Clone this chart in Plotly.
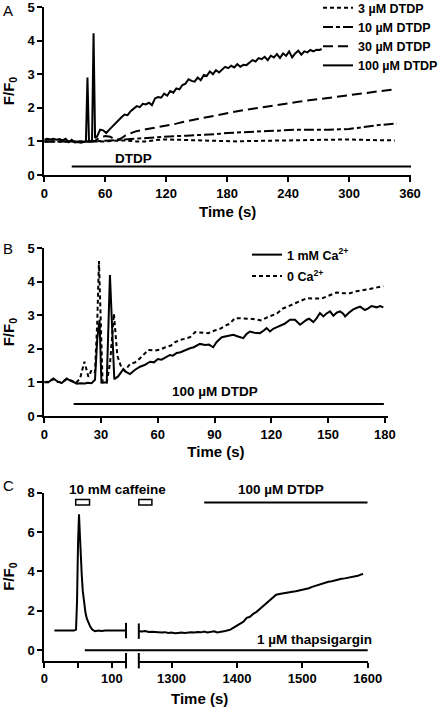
import plotly.graph_objects as go

FONT = "Liberation Sans, Arial, sans-serif"

# ---------------- Panel A ----------------
a_t100 = [0, 3, 6, 9, 12, 15, 18, 21, 24, 27, 30, 33, 36, 39, 41, 42.5, 44, 45.5, 47, 48.5, 50, 52,
          55, 58, 61, 64, 67, 70, 73, 76, 79, 82, 85, 88, 91, 94, 97, 100, 103, 106, 109, 112, 115,
          118, 121, 124, 127, 130, 133, 136, 139, 142, 145, 148, 151, 154, 157, 160, 163, 166, 169,
          172, 175, 178, 181, 184, 187, 190, 193, 196, 199, 202, 205, 208, 211, 214, 217, 220, 223,
          226, 229, 232, 235, 238, 241, 244, 247, 250, 253, 256, 259, 262, 265, 268, 271, 273]
a_y100 = [1.05, 1.08, 1.06, 1.08, 1.05, 1.07, 1.03, 1.08, 0.98, 1.05, 0.97, 0.98, 0.96, 0.98, 1.0,
          2.9, 1.0, 1.0, 1.0, 4.22, 1.1, 1.15,
          1.35, 1.33, 1.25, 1.35, 1.45, 1.55, 1.65, 1.72, 1.8, 1.78, 1.9, 1.97, 2.05, 2.02, 2.12,
          2.1, 2.15, 2.08, 2.28, 2.32, 2.3, 2.42, 2.36, 2.5, 2.45, 2.58, 2.55, 2.68, 2.72, 2.85,
          2.8, 2.78, 2.9, 2.82, 2.98, 2.95, 3.08, 3.0, 3.12, 3.05, 3.15, 3.22, 3.18, 3.25, 3.2,
          3.3, 3.22, 3.28, 3.27, 3.35, 3.42, 3.38, 3.48, 3.45, 3.52, 3.42, 3.55, 3.5, 3.6, 3.48,
          3.62, 3.55, 3.68, 3.5, 3.62, 3.7, 3.58, 3.68, 3.65, 3.72, 3.68, 3.73, 3.72, 3.75]

a_t30 = [0, 10, 20, 30, 40, 50, 55, 60, 65, 70, 75, 80, 90, 100, 110, 120, 130, 140, 150, 160, 170,
         180, 190, 200, 210, 220, 230, 240, 250, 260, 270, 280, 290, 300, 310, 320, 330, 342]
a_y30 = [1.0, 1.0, 1.0, 0.98, 0.99, 1.02, 1.12, 1.16, 1.14, 1.04, 1.08, 1.18, 1.3, 1.36, 1.41, 1.47,
         1.53, 1.6, 1.66, 1.73, 1.8, 1.86, 1.9, 1.95, 1.99, 2.04, 2.08, 2.13, 2.18, 2.22, 2.26,
         2.29, 2.33, 2.37, 2.41, 2.45, 2.49, 2.54]

a_t10 = [0, 10, 20, 30, 40, 50, 60, 70, 80, 90, 100, 110, 120, 130, 140, 150, 160, 170, 180, 190,
         200, 210, 220, 230, 240, 250, 260, 270, 280, 290, 300, 310, 320, 330, 347]
a_y10 = [1.0, 1.0, 1.0, 0.98, 0.98, 1.0, 1.02, 1.04, 1.07, 1.1, 1.12, 1.14, 1.15, 1.16, 1.17, 1.18,
         1.2, 1.22, 1.25, 1.27, 1.29, 1.3, 1.31, 1.32, 1.34, 1.35, 1.35, 1.34, 1.35, 1.36, 1.37,
         1.41, 1.46, 1.49, 1.53]

a_t3 = [0, 10, 20, 30, 40, 50, 60, 70, 80, 90, 100, 110, 120, 130, 140, 150, 160, 170, 180, 190,
        200, 220, 240, 260, 280, 300, 320, 345]
a_y3 = [1.0, 1.0, 0.99, 0.98, 0.98, 1.0, 1.0, 1.02, 1.03, 1.0, 1.0, 1.04, 1.06, 1.05, 1.04, 1.02,
        1.01, 1.0, 1.0, 1.0, 1.01, 1.02, 1.02, 1.03, 1.04, 1.06, 1.04, 1.03]

a_names = ["3 µM DTDP", "10 µM DTDP", "30 µM DTDP", "100 µM DTDP"]
a_bar = [27, 361]          # DTDP application (s)
a_bar_level = 0.25
a_xticks = [0, 60, 120, 180, 240, 300, 360]

# ---------------- Panel B ----------------
b_t1 = [0, 2, 4.8, 7, 9.2, 11.8, 13, 14.5, 16, 17.1, 19, 21.5, 23, 25, 26.8, 28, 29.2, 30.2, 31.5,
        33, 34.7, 37, 39, 41.8, 43, 45.3, 48, 50.6, 53, 55.9, 58, 60, 62, 64, 66.4, 68, 70, 72, 74,
        77, 79, 82.3, 85, 87, 89.3, 91, 93.8, 96, 99.9, 102, 105.2, 107, 108.7, 111, 114, 116,
        117.5, 119.3, 121, 123, 125, 127, 129.9, 132.5, 135.2, 137, 138.7, 140, 142.2, 144, 145.7,
        147.5, 149, 151, 152.8, 154.5, 156.3, 158, 159, 161, 163.3, 165, 166.9, 169.5, 171, 173,
        175.7, 177.5, 179.2]
b_y1 = [1.02, 1.0, 1.12, 1.03, 0.98, 1.12, 1.08, 1.05, 1.0, 0.96, 0.98, 0.97, 0.99, 0.98, 1.08,
        2.3, 2.87, 1.0, 1.0, 1.0, 4.2, 1.1, 1.18, 1.4, 1.32, 1.25, 1.38, 1.47, 1.52, 1.62, 1.6,
        1.7, 1.68, 1.75, 1.82, 1.8, 1.88, 1.9, 1.95, 2.02, 2.05, 2.15, 2.12, 2.13, 2.05, 2.2, 2.35,
        2.38, 2.42, 2.38, 2.32, 2.45, 2.52, 2.48, 2.47, 2.55, 2.62, 2.52, 2.6, 2.65, 2.7, 2.75,
        2.87, 2.87, 2.72, 2.8, 2.87, 2.9, 2.8, 2.92, 3.07, 2.97, 3.05, 3.12, 2.99, 3.08, 3.12,
        3.05, 2.97, 3.08, 3.18, 3.22, 3.26, 3.16, 3.2, 3.28, 3.24, 3.28, 3.24]

b_t0 = [0, 2, 4.8, 7, 9.2, 11.8, 14.5, 17, 18.9, 21.2, 23.3, 25, 26.8, 28, 28.9, 29.8, 30.8, 33,
        34.8, 36.8, 38.6, 40.9, 42.5, 45.3, 48, 50.6, 53, 55, 58.5, 61.2, 64, 67, 69, 71.7, 74,
        77, 79.7, 83, 86.7, 90, 92.9, 96, 98, 100.8, 104, 108.7, 112, 114.9, 118, 122.8, 126,
        129.9, 133, 136, 138.7, 142, 146.6, 150, 154.5, 158, 161.6, 165, 170.4, 175, 179.2]
b_y0 = [1.0, 1.02, 1.1, 1.02, 1.0, 1.1, 1.05, 1.0, 1.12, 1.62, 1.17, 1.37, 1.3, 2.8, 4.62, 2.5,
        1.0, 1.0, 1.6, 3.05, 1.8, 1.42, 1.35, 1.55, 1.6, 1.72, 1.85, 1.97, 1.95, 1.98, 2.05, 2.1,
        2.2, 2.27, 2.3, 2.35, 2.5, 2.48, 2.47, 2.55, 2.6, 2.7, 2.75, 2.92, 2.92, 2.9, 2.88, 2.85,
        2.95, 3.05, 3.2, 3.3, 3.38, 3.45, 3.51, 3.5, 3.5, 3.58, 3.68, 3.66, 3.66, 3.72, 3.77,
        3.82, 3.88]

b_names = ["1 mM Ca<sup>2+</sup>", "0 Ca<sup>2+</sup>"]
b_bar = [15.5, 179.5]
b_bar_level = 0.36
b_xticks = [0, 30, 60, 90, 120, 150, 180]

# ---------------- Panel C ----------------
c_tl = [15, 20, 25, 30, 35, 40, 44, 47, 48.5, 50, 51.4, 52.5, 54, 55.5, 57, 59, 61, 63, 65, 68, 71,
        75, 80, 85, 90, 95, 100, 105, 110, 115, 121]
c_yl = [1.0, 1.0, 1.02, 1.0, 1.01, 1.03, 1.0, 1.05, 2.5, 5.5, 6.9, 6.0, 4.6, 3.8, 3.0, 2.3, 1.9,
        1.6, 1.4, 1.2, 1.05, 0.97, 1.0, 0.98, 1.0, 1.0, 1.0, 0.99, 1.0, 1.0, 1.0]

c_tr = [1250, 1255, 1260, 1265, 1270, 1275, 1280, 1285, 1290, 1295, 1300, 1305, 1310, 1315, 1320,
        1325, 1330, 1335, 1340, 1345, 1350, 1355, 1360, 1365, 1370, 1375, 1380, 1385, 1390, 1395,
        1400, 1405, 1410, 1415, 1420, 1425, 1430, 1435, 1440, 1445, 1450, 1455, 1460, 1465, 1470,
        1475, 1480, 1485, 1490, 1495, 1500, 1505, 1510, 1515, 1520, 1525, 1530, 1535, 1540, 1545,
        1550, 1555, 1560, 1565, 1570, 1575, 1580, 1585, 1590, 1593]
c_yr = [0.97, 0.95, 0.98, 0.93, 0.94, 0.92, 0.93, 0.9, 0.92, 0.88, 0.9, 0.86, 0.88, 0.9, 0.88, 0.9,
        0.92, 0.9, 0.93, 0.91, 0.95, 0.9, 0.93, 0.96, 0.9, 0.92, 0.96, 1.0, 1.05, 1.15, 1.25, 1.35,
        1.45, 1.65, 1.7, 1.85, 1.95, 2.1, 2.25, 2.4, 2.55, 2.7, 2.82, 2.86, 2.88, 2.92, 2.95, 2.97,
        3.0, 3.03, 3.06, 3.1, 3.15, 3.22, 3.28, 3.33, 3.38, 3.42, 3.48, 3.5, 3.55, 3.6, 3.63, 3.65,
        3.68, 3.7, 3.73, 3.78, 3.85, 3.88]

c_range_l = [0, 121]
c_range_r = [1248, 1600]
c_yrange = [-0.53, 8]
c_caff1 = [46.5, 67]
c_caff2 = [1250, 1270]
c_caff_level = [7.37, 7.65]
c_dtdp = [1350, 1600]
c_dtdp_level = 7.5
c_thaps_start = 60
c_thaps_level = 0
c_label_level = 8.15

# ---------------- layout geometry ----------------
dom_ax = [0.1002, 0.9299]; dom_ay = [0.7528, 0.9901]
dom_bx = [0.1002, 0.8771]; dom_by = [0.4124, 0.6493]
dom_cxl = [0.1002, 0.2851]; dom_cxr = [0.3111, 0.8319]; dom_cy = [0.0668, 0.3041]


def to_paper(v, rng, dom):
    return dom[0] + (v - rng[0]) / (rng[1] - rng[0]) * (dom[1] - dom[0])


BLACK = "black"
LW = 2

fig = go.Figure()

# Panel A traces
a_styles = ["4px,3px", "10px,3px,4px,3px", "10px,5px", "solid"]
for t, y, name, dash in zip([a_t3, a_t10, a_t30, a_t100], [a_y3, a_y10, a_y30, a_y100], a_names, a_styles):
    fig.add_trace(go.Scatter(x=t, y=y, mode="lines", name=name, xaxis="x", yaxis="y",
                             line=dict(color=BLACK, width=LW, dash=dash), legend="legend"))

# Panel B traces
fig.add_trace(go.Scatter(x=b_t1, y=b_y1, mode="lines", name=b_names[0], xaxis="x2", yaxis="y2",
                         line=dict(color=BLACK, width=LW), legend="legend2", legendgroup="b1"))
fig.add_trace(go.Scatter(x=b_t0, y=b_y0, mode="lines", name=b_names[1], xaxis="x2", yaxis="y2",
                         line=dict(color=BLACK, width=LW, dash="4px,3px"), legend="legend2",
                         legendgroup="b0"))

# Panel C traces
fig.add_trace(go.Scatter(x=c_tl, y=c_yl, mode="lines", xaxis="x3", yaxis="y3", showlegend=False,
                         line=dict(color=BLACK, width=LW)))
fig.add_trace(go.Scatter(x=c_tr, y=c_yr, mode="lines", xaxis="x4", yaxis="y3", showlegend=False,
                         line=dict(color=BLACK, width=LW)))
# break marks on data and axis
brk = dict(symbol="line-ns", size=11, color=BLACK, line=dict(color=BLACK, width=2))
fig.add_trace(go.Scatter(x=[c_tl[-1], c_range_l[1]], y=[c_yl[-1], c_yrange[0]], mode="markers",
                         xaxis="x3", yaxis="y3", showlegend=False, cliponaxis=False, marker=brk,
                         hoverinfo="skip"))
fig.add_trace(go.Scatter(x=[c_tr[0], c_tr[0]], y=[c_yr[0], c_yrange[0]], mode="markers",
                         xaxis="x4", yaxis="y3", showlegend=False, cliponaxis=False, marker=brk,
                         hoverinfo="skip"))

shapes = [
    dict(type="line", xref="x", yref="y", x0=a_bar[0], x1=a_bar[1], y0=a_bar_level, y1=a_bar_level,
         line=dict(color=BLACK, width=LW)),
    dict(type="line", xref="x2", yref="y2", x0=b_bar[0], x1=b_bar[1], y0=b_bar_level, y1=b_bar_level,
         line=dict(color=BLACK, width=LW)),
    dict(type="line", xref="x4", yref="y3", x0=c_dtdp[0], x1=c_dtdp[1], y0=c_dtdp_level, y1=c_dtdp_level,
         line=dict(color=BLACK, width=LW)),
    dict(type="rect", xref="x3", yref="y3", x0=c_caff1[0], x1=c_caff1[1], y0=c_caff_level[0],
         y1=c_caff_level[1], line=dict(color=BLACK, width=1.5), fillcolor="white"),
    dict(type="rect", xref="x4", yref="y3", x0=c_caff2[0], x1=c_caff2[1], y0=c_caff_level[0],
         y1=c_caff_level[1], line=dict(color=BLACK, width=1.5), fillcolor="white"),
    dict(type="line", xref="paper", yref="y3",
         x0=to_paper(c_thaps_start, c_range_l, dom_cxl),
         x1=to_paper(c_range_r[1], c_range_r, dom_cxr),
         y0=c_thaps_level, y1=c_thaps_level, line=dict(color=BLACK, width=LW)),
]

tickfont = dict(family=FONT, size=13, color=BLACK, weight="bold")
titlefont = dict(family=FONT, size=15, color=BLACK, weight="bold")
axis = dict(showline=True, linecolor=BLACK, linewidth=LW, ticks="outside", ticklen=5, tickwidth=LW,
            tickcolor=BLACK, showgrid=False, zeroline=False, tickfont=tickfont, fixedrange=True,
            automargin=False, ticklabeloverflow="allow")

ann_font = dict(family=FONT, size=13.5, color=BLACK, weight="bold")
letter_font = dict(family=FONT, size=15, color=BLACK, weight="normal")
cm = dict(showarrow=False, xanchor="center", yanchor="middle")

annotations = [
    dict(cm, text="A", xref="paper", yref="paper", x=8 / 442, y=1 - 10 / 708, font=letter_font),
    dict(cm, text="B", xref="paper", yref="paper", x=8 / 442, y=1 - 249 / 708, font=letter_font),
    dict(cm, text="C", xref="paper", yref="paper", x=8 / 442, y=1 - 485 / 708, font=letter_font),
    dict(cm, text="DTDP", xref="x", yref="y", x=88, y=0.5, font=ann_font),
    dict(cm, text="100 µM DTDP", xref="x2", yref="y2", x=90, y=0.73, font=ann_font),
    dict(cm, text="10 mM caffeine", xref="paper", yref="paper", x=to_paper(108, c_range_l, dom_cxl),
         y=to_paper(c_label_level, c_yrange, dom_cy), font=ann_font),
    dict(cm, text="100 µM DTDP", xref="paper", yref="paper", x=to_paper(1467, c_range_r, dom_cxr),
         y=to_paper(c_label_level, c_yrange, dom_cy), font=ann_font),
    dict(cm, text="1 µM thapsigargin", xref="x4", yref="y3", x=1519, y=0.55, font=ann_font),
    dict(cm, text="Time (s)", xref="paper", yref="paper", x=199 / 442, y=1 - 698 / 708, font=titlefont),
]

fig.update_layout(
    width=442, height=708, margin=dict(l=0, r=0, t=0, b=0, autoexpand=False),
    paper_bgcolor="white", plot_bgcolor="white",
    font=dict(family=FONT, color=BLACK),
    showlegend=True,
    xaxis=dict(axis, domain=dom_ax, range=[0, 361], tickvals=a_xticks, anchor="y",
               title=dict(text="Time (s)", font=titlefont, standoff=7)),
    yaxis=dict(axis, domain=dom_ay, range=[0, 5], dtick=1, anchor="x",
               title=dict(text="F/F<sub>0</sub>", font=titlefont)),
    xaxis2=dict(axis, domain=dom_bx, range=[0, 181.5], tickvals=b_xticks, anchor="y2",
                title=dict(text="Time (s)", font=titlefont, standoff=6)),
    yaxis2=dict(axis, domain=dom_by, range=[0, 5], dtick=1, anchor="x2",
                title=dict(text="F/F<sub>0</sub>", font=titlefont)),
    xaxis3=dict(axis, domain=dom_cxl, range=c_range_l, tickvals=[0, 50, 100], ticktext=["0", "", "100"],
                anchor="y3"),
    xaxis4=dict(axis, domain=dom_cxr, range=c_range_r, tickvals=[1300, 1400, 1500, 1600], anchor="y3"),
    yaxis3=dict(axis, domain=dom_cy, range=c_yrange, tickvals=[0, 2, 4, 6, 8], anchor="x3",
                title=dict(text="F/F<sub>0</sub>", font=titlefont)),
    legend=dict(x=318 / 442, y=1 + 7 / 708, xanchor="left", yanchor="top", bgcolor="rgba(0,0,0,0)",
                font=dict(family=FONT, size=12.5, color=BLACK, weight="bold"), itemwidth=30,
                tracegroupgap=0),
    legend2=dict(x=247 / 442, y=1 - 240 / 708, xanchor="left", yanchor="top", bgcolor="rgba(0,0,0,0)",
                 font=dict(family=FONT, size=12.5, color=BLACK, weight="bold"), itemwidth=30,
                 tracegroupgap=2),
    shapes=shapes,
    annotations=annotations,
)

fig.write_html("out.html", config={"displayModeBar": False, "staticPlot": False},
               post_script="document.body.style.margin='0px';")
